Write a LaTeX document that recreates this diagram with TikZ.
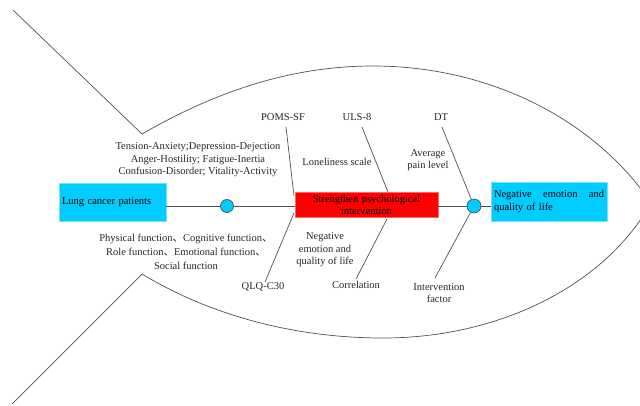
\documentclass[tikz,border=0pt]{standalone}
\usepackage{fontspec}
\setmainfont{Liberation Serif}
\newfontfamily\cjk{Noto Sans CJK SC}
\usetikzlibrary{positioning}
\definecolor{fishcyan}{HTML}{00CCFF}
\definecolor{boxred}{HTML}{FF0000}
\definecolor{bonegrey}{HTML}{505050}
\newcommand{\dun}{{\cjk 、}}

\begin{document}
\begin{tikzpicture}[x=1pt,y=-1pt,font=\fontsize{10.5}{12.5}\selectfont,
  bone/.style={draw=bonegrey,line width=0.7pt},
  cbox/.style={fill=fishcyan,draw=fishcyan!55,line width=0.5pt,inner sep=3pt},
  dot/.style={circle,fill=fishcyan,draw=bonegrey,line width=0.7pt,inner sep=0pt},
  lbl/.style={align=center,inner sep=1pt,text=black!85}]
  \useasboundingbox (0,0) rectangle (640,405);
  % fish outline
  \draw[bone] (13,10) -- (142,134) .. controls (215,92) and (290,66) .. (373,66)
    .. controls (490,66) and (595,120) .. (651,203)
    .. controls (605,285) and (500,338) .. (383,338)
    .. controls (300,338) and (215,318) .. (142,274) -- (12,404);
  % branch ends
  \coordinate (pomsTop) at (286,127);
  \coordinate (pomsEnd) at (294,196);
  \coordinate (qlqEnd) at (294,213);
  \coordinate (qlqTail) at (265,282);
  \coordinate (ulsTop) at (362,127);
  \coordinate (ulsEnd) at (388,192);
  \coordinate (corrEnd) at (387,219);
  \coordinate (corrTail) at (356,279);
  \coordinate (dtTop) at (442,127);
  \coordinate (factorTail) at (435,278);
  \draw[bone] (pomsTop) -- (pomsEnd);
  \draw[bone] (qlqEnd) -- (qlqTail);
  \draw[bone] (ulsTop) -- (ulsEnd);
  \draw[bone] (corrEnd) -- (corrTail);
  % main boxes
  \node[cbox,minimum width=107pt,minimum height=38pt,text width=101pt,align=left] (patients) at (112.5,202) {Lung cancer patients};
  \node[fill=boxred,draw=boxred!60,line width=0.5pt,minimum width=143pt,minimum height=25pt,text width=139pt,align=center,inner sep=2pt,
    font=\fontsize{10.5}{12}\selectfont] (intervention) at (366.5,204.5) {Strengthen psychological\\intervention};
  \node[cbox,minimum width=116pt,minimum height=39pt,text width=110pt,align=left] (outcome) at (549,201.5) {Negative\hfill emotion\hfill and\\quality of life};
  \node[dot,minimum size=13pt] (c1) at (227,206) {};
  \node[dot,minimum size=14pt] (c2) at (474,206) {};
  % spine
  \draw[bone] (patients.east |- c1) -- (c1) -- (intervention.west |- c1);
  \draw[bone] (intervention.east |- c2) -- (c2) -- (outcome.west |- c2);
  \draw[bone] (dtTop) -- (c2) -- (factorTail);
  % labels
  \node[lbl] (poms) at (283,117) {POMS-SF};
  \node[lbl] (uls) at (357,117) {ULS-8};
  \node[lbl] (dt) at (441,117) {DT};
  \node[lbl] (qlq) at (263,287) {QLQ-C30};
  \node[lbl] (corr) at (356,285) {Correlation};
  \node[lbl] (factor) at (439,293) {Intervention\\factor};
  \node[lbl] (moods) at (198,160) {Tension-Anxiety;Depression-Dejection\\Anger-Hostility; Fatigue-Inertia\\Confusion-Disorder; Vitality-Activity};
  \node[lbl,font=\fontsize{10.5}{14}\selectfont] (domains) at (186,252) {Physical function\dun Cognitive function\dun\\Role function\dun Emotional function\dun\\Social function};
  \node[lbl] (lonely) at (337,162) {Loneliness scale};
  \node[lbl] (pain) at (428,160) {Average\\pain level};
  \node[lbl] (negqol) at (325,250) {Negative\\emotion and\\quality of life};
\end{tikzpicture}
\end{document}
